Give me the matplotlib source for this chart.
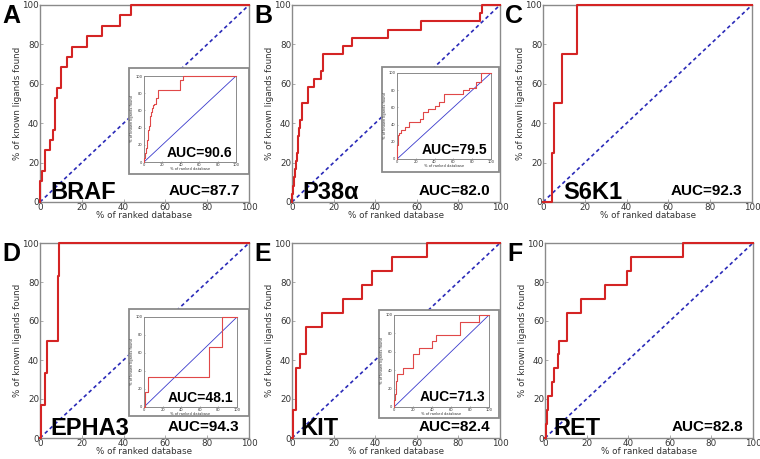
import matplotlib
matplotlib.use('Agg')
import matplotlib.pyplot as plt
from matplotlib.patches import Rectangle
import numpy as np

W, H = 760, 459

# ---------- data: x where a ligand is found (% of ranked db), y after the step ----------
braf_x = [0, 1, 2.5, 3, 5, 6, 7, 8, 10, 13, 15.5, 22.5, 29.5, 38.5, 43.5]
braf_y = [10.5, 15.8, 26.3, 26.3, 31.6, 36.8, 52.6, 57.9, 68.4, 73.7, 78.9, 84.2, 89.5, 94.7, 100]
braf_in_x = [0, 1, 2, 3, 4, 5, 6, 7, 8, 9, 10, 11, 13, 15, 39.5, 42.5]
braf_in_y = [5, 11, 16, 26, 37, 42, 47, 53, 58, 63, 66, 68, 74, 84, 95, 100]

p38_x = [0, 0.5, 1, 1.5, 2, 2.3, 2.7, 3, 3.3, 3.7, 4.8, 7.5, 10.4, 14, 14.9, 24.5, 29, 46, 62, 90.4, 91.5]
p38_y = [4.2, 8.3, 12.5, 16.7, 20.8, 25, 29.2, 33.3, 37.5, 41.7, 50, 58.3, 62.5, 66.7, 75, 79.2, 83.3, 87.5, 91.7, 95.8, 100]
p38_in_x = [0, 0.5, 1, 1.5, 2, 4.6, 8, 13, 24, 28, 33, 40, 45, 50, 70, 77, 84, 89]
p38_in_y = [8, 16, 22, 28, 30, 34, 37, 43, 47, 55, 58, 62, 66, 76, 80, 83, 90, 100]

s6k1_x = [4.4, 5.1, 9, 16.2]
s6k1_y = [25, 50, 75, 100]

epha3_x = [0.5, 2.4, 3.2, 8.4, 8.9]
epha3_y = [16.7, 33.3, 50, 83.3, 100]
epha3_in_x = [1, 3.9, 70, 83.9]
epha3_in_y = [16.7, 33.3, 66.7, 100]

kit_x = [0.5, 1.8, 3.7, 6.6, 14.6, 24.6, 33.7, 38.7, 48.3, 65]
kit_y = [14.3, 35.7, 42.9, 57.1, 64.3, 71.4, 78.6, 85.7, 92.9, 100]
kit_in_x = [0.5, 1.2, 2, 2.8, 9.8, 20.3, 26, 39.5, 43.7, 69, 89.5]
kit_in_y = [7.1, 14.3, 28.6, 35.7, 42.9, 57.1, 64.3, 71.4, 78.6, 92.9, 100]

ret_x = [0.5, 0.8, 1.6, 3.5, 4.5, 6.4, 6.9, 10.7, 17.3, 28.8, 39.2, 41.3, 66.4]
ret_y = [7.1, 14.3, 21.4, 28.6, 35.7, 42.9, 50, 64.3, 71.4, 78.6, 85.7, 92.9, 100]

letters = ['A', 'B', 'C', 'D', 'E', 'F']
genes = ['BRAF', 'P38α', 'S6K1', 'EPHA3', 'KIT', 'RET']
auc_main = ['87.7', '82.0', '92.3', '94.3', '82.4', '82.8']
auc_inset = ['90.6', '79.5', None, '48.1', '71.3', None]

curves = [(braf_x, braf_y), (p38_x, p38_y), (s6k1_x, s6k1_y),
          (epha3_x, epha3_y), (kit_x, kit_y), (ret_x, ret_y)]
inset_curves = [(braf_in_x, braf_in_y), (p38_in_x, p38_in_y), None,
                (epha3_in_x, epha3_in_y), (kit_in_x, kit_in_y), None]

# ---------- layout in pixels (x0, y0, x1, y1), y from top ----------
main_box = [(40, 5, 249, 202), (292, 5, 500, 202), (543, 5, 752, 202),
            (40, 243, 249, 438), (292, 243, 500, 438), (545, 243, 753, 438)]
inset_box = [(144, 76, 236, 162), (397, 73, 491, 159), None,
             (144, 317, 237, 407), (394, 315, 489, 407), None]
frame_box = [(129, 68, 249, 174), (382, 67, 499, 172), None,
             (129, 309, 249, 416), (379, 310, 499, 418), None]
gene_x = [0.048, 0.048, 0.095, 0.048, 0.04, 0.04]


def rect(b):
    x0, y0, x1, y1 = b
    return [x0 / W, 1 - y1 / H, (x1 - x0) / W, (y1 - y0) / H]


def roc(ax, xs, ys, lw, color):
    xx = np.r_[0, xs, 100]
    yy = np.r_[0, ys, ys[-1]]
    ax.step(xx, yy, where='post', color=color, lw=lw, clip_on=False, zorder=3)


def style(ax, fs, lw, pad, xlab_px, h_px):
    ax.set_xlim(0, 100)
    ax.set_ylim(0, 100)
    ax.set_xticks(range(0, 101, 20))
    ax.set_yticks(range(0, 101, 20))
    for s in ax.spines.values():
        s.set_color('#8a8a8a')
        s.set_linewidth(lw)
    ax.tick_params(direction='in', length=2, width=0.5, colors='#8a8a8a',
                   labelcolor='#333333', labelsize=fs, pad=pad)
    ax.set_xlabel('% of ranked database', fontsize=fs, color='#333333')
    ax.xaxis.set_label_coords(0.5, -xlab_px / h_px)
    ax.set_ylabel('% of known ligands found', fontsize=fs, color='#333333', labelpad=pad)


fig = plt.figure(figsize=(W / 100, H / 100), dpi=100)
bold = dict(family=['Liberation Sans', 'DejaVu Sans'], fontweight='bold', color='black')

for i in range(6):
    x0, y0, x1, y1 = main_box[i]
    ax = fig.add_axes(rect(main_box[i]))
    style(ax, 6.3, 1.0, 0.6, 9.5, y1 - y0)
    ax.plot([0, 100], [0, 100], color='#2a2ab8', lw=1.2, linestyle=(0, (2.2, 1.8)), zorder=2)
    roc(ax, *curves[i], 1.5, '#d42424')
    ax.text(gene_x[i], 0.015, genes[i], transform=ax.transAxes, fontsize=17,
            ha='left', va='baseline', **bold)
    ax.text(0.955, 0.035, 'AUC=' + auc_main[i], transform=ax.transAxes, fontsize=11,
            ha='right', va='baseline', **bold)
    fig.text((x0 - 38) / W, 1 - (y0 - 1) / H, letters[i], fontsize=18, ha='left', va='top', **bold)

    if inset_curves[i] is not None:
        fb = rect(frame_box[i])
        fig.add_artist(Rectangle(fb[:2], fb[2], fb[3], transform=fig.transFigure,
                                 facecolor='white', edgecolor='#8a8a8a', lw=1.3, zorder=5))
        ib = inset_box[i]
        ia = fig.add_axes(rect(ib), zorder=6)
        style(ia, 2.6, 0.7, 1, 5, ib[3] - ib[1])
        ia.tick_params(length=1)
        ia.plot([0, 100], [0, 100], color='#3a3acc', lw=0.6, zorder=2)
        roc(ia, *inset_curves[i], 0.8, '#e04848')
        ia.text(0.96, 0.06, 'AUC=' + auc_inset[i], transform=ia.transAxes, fontsize=10,
                ha='right', va='baseline', **bold)

fig.savefig('out.png', dpi=100)
